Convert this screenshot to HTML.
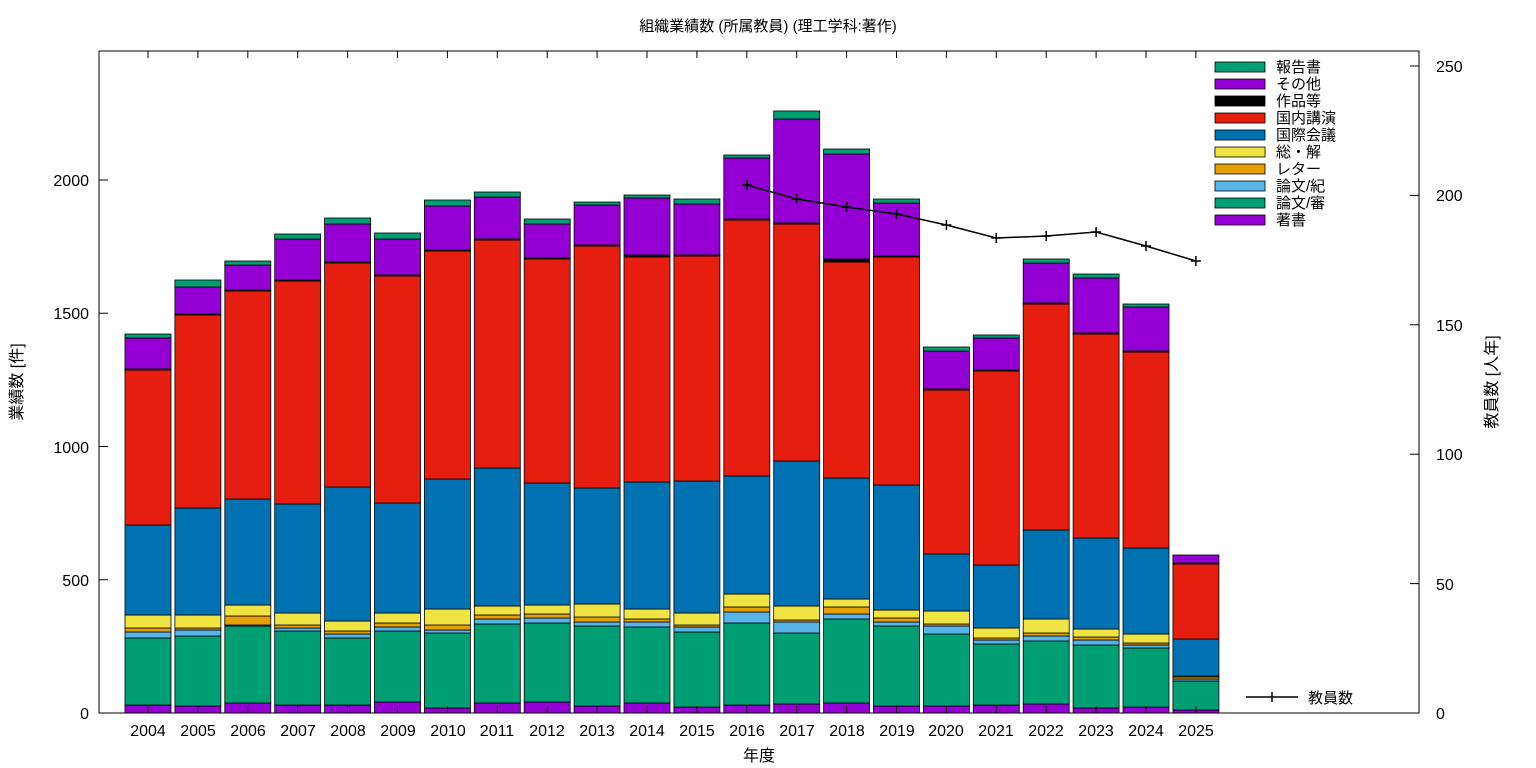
<!DOCTYPE html>
<html><head><meta charset="utf-8"><style>
body{margin:0;background:#fff}
svg{display:block;font-family:"Liberation Sans","Noto Sans CJK JP",sans-serif;font-size:16px}
</style></head><body>
<svg id="s" width="1536" height="768" xmlns="http://www.w3.org/2000/svg">
<rect x="0" y="0" width="1536" height="768" fill="#fff"/>
<g id="bars"></g>
<rect x="99" y="51" width="1320" height="662" fill="none" stroke="#000" stroke-width="1"/>
<g id="ticks" stroke="#000"></g>
<text x="768" y="31" text-anchor="middle" font-size="15">組織業績数 (所属教員) (理工学科:著作)</text>
<g text-anchor="end">
<text x="89" y="719">0</text><text x="89" y="586">500</text><text x="89" y="453">1000</text><text x="89" y="319">1500</text><text x="89" y="186">2000</text>
</g>
<g text-anchor="start">
<text x="1436" y="719">0</text><text x="1436" y="590">50</text><text x="1436" y="460">100</text><text x="1436" y="331">150</text><text x="1436" y="201">200</text><text x="1436" y="72">250</text>
</g>
<g text-anchor="middle">
<text x="148" y="736">2004</text><text x="198" y="736">2005</text><text x="248" y="736">2006</text><text x="298" y="736">2007</text><text x="348" y="736">2008</text><text x="398" y="736">2009</text><text x="448" y="736">2010</text><text x="497" y="736">2011</text><text x="547" y="736">2012</text><text x="597" y="736">2013</text><text x="647" y="736">2014</text><text x="697" y="736">2015</text><text x="747" y="736">2016</text><text x="797" y="736">2017</text><text x="847" y="736">2018</text><text x="897" y="736">2019</text><text x="946" y="736">2020</text><text x="996" y="736">2021</text><text x="1046" y="736">2022</text><text x="1096" y="736">2023</text><text x="1146" y="736">2024</text><text x="1196" y="736">2025</text>
<text x="759" y="761">年度</text>
</g>
<text transform="translate(22,382) rotate(-90)" text-anchor="middle">業績数 [件]</text>
<text transform="translate(1497,382) rotate(-90)" text-anchor="middle">教員数 [人年]</text>
<g id="legend" font-size="15">
<text x="1276" y="72">報告書</text><text x="1276" y="89">その他</text><text x="1276" y="106">作品等</text><text x="1276" y="123">国内講演</text><text x="1276" y="140">国際会議</text><text x="1276" y="157">総・解</text><text x="1276" y="174">レター</text><text x="1276" y="191">論文/紀</text><text x="1276" y="208">論文/審</text><text x="1276" y="225">著書</text>
<text x="1308" y="703">教員数</text>
</g>
<line x1="1246" y1="697" x2="1298" y2="697" stroke="#000" stroke-width="1.5"/>
<line x1="1272" y1="692" x2="1272" y2="702" stroke="#000" stroke-width="1.5"/>
<g id="line"></g>
</svg>
<script>
var C=["#9400d3","#009e73","#56b4e9","#e69f00","#f0e442","#0072b2","#e51e10","#000000","#9400d3","#009e73"];
var D=[
[705,638,632,628,615,525,370,369,338,334],
[706,636,630,628,615,508,315,314,287,280],
[703,626,625,616,605,499,291,290,265,261],
[705,631,628,625,613,504,281,280,239,234],
[705,638,634,631,621,487,263,262,224,218],
[702,631,627,623,613,503,276,275,239,233],
[708,633,630,625,609,479,251,250,206,200],
[703,624,619,615,606,468,240,239,197,192],
[702,623,618,614,605,483,259,258,224,219],
[706,626,622,617,604,488,246,245,205,202],
[703,627,622,619,609,482,257,255,198,195],
[707,632,627,625,613,481,256,255,204,199],
[705,623,612,607,594,476,220,219,158,155],
[704,633,622,620,606,461,224,223,119,111],
[703,619,614,607,599,478,262,259,154,149],
[706,626,622,618,610,485,257,256,203,199],
[706,634,626,624,611,554,390,389,351,347],
[705,644,640,638,628,565,371,370,338,335],
[704,641,636,633,619,530,304,303,263,259],
[708,645,640,637,629,538,334,333,278,274],
[707,648,645,643,634,548,352,351,307,304],
[710,681,679,677,676,639,564,563,555,555]];
var ns="http://www.w3.org/2000/svg",g=document.getElementById("bars");
function el(p,t,a){var e=document.createElementNS(ns,t);for(var k in a)e.setAttribute(k,a[k]);p.appendChild(e);return e;}
D.forEach(function(b,i){var cx=148+i*49.9,prev=713;
b.forEach(function(y,j){if(prev-y>0)el(g,"rect",{x:cx-23,y:y,width:46,height:prev-y,fill:C[j],stroke:"#000","stroke-width":0.8});prev=y;});});
var t=document.getElementById("ticks");
[0,500,1000,1500,2000].forEach(function(v){var y=713-v*0.2665;el(t,"line",{x1:99,y1:y,x2:108,y2:y});});
[0,50,100,150,200,250].forEach(function(v){var y=713-v*2.588;el(t,"line",{x1:1410,y1:y,x2:1419,y2:y});});
D.forEach(function(b,i){var cx=148+i*49.9;el(t,"line",{x1:cx,y1:713,x2:cx,y2:706});el(t,"line",{x1:cx,y1:51,x2:cx,y2:58});});
var L=[185,199,207,214,225,238,236,232,246,261],lg=document.getElementById("line"),pts=[];
L.forEach(function(y,i){var x=148+(12+i)*49.9;pts.push(x+","+y);el(lg,"line",{x1:x,y1:y-5,x2:x,y2:y+5,stroke:"#000","stroke-width":1.5});el(lg,"line",{x1:x-5,y1:y,x2:x+5,y2:y,stroke:"#000","stroke-width":1.5});});
el(lg,"polyline",{points:pts.join(" "),fill:"none",stroke:"#000","stroke-width":1.5});
var lgd=document.getElementById("legend");
C.slice().reverse().forEach(function(c,i){el(lgd,"rect",{x:1215,y:62+i*17,width:50,height:10,fill:c,stroke:"#000","stroke-width":0.8});});
</script>
</body></html>
